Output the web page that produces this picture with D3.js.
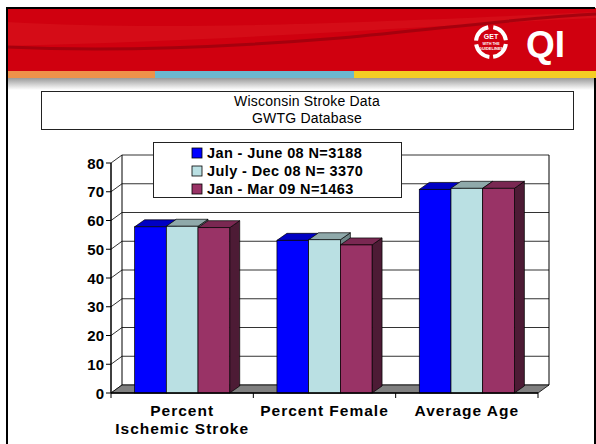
<!DOCTYPE html>
<html>
<head>
<meta charset="utf-8">
<script src="https://cdn.jsdelivr.net/npm/d3@7"></script>
<style>
  body { margin: 0; background: #fff; }
  svg { display: block; font-family: "Liberation Sans", Arial, sans-serif; }
</style>
</head>
<body>
<div id="chart"></div>
<script>
// data
const categories = [["Percent", "Ischemic Stroke"], ["Percent Female"], ["Average Age"]]
const seriesNames = ["Jan - June 08 N=3188", "July - Dec 08 N= 3370", "Jan - Mar 09 N=1463"]
const janJune08 = [57.8, 53.1, 70.8]
const julyDec08 = [58.0, 53.3, 71.2]
const janMar09 = [57.5, 51.5, 71.2]
const yTicks = [0, 10, 20, 30, 40, 50, 60, 70, 80]
const titleLines = ["Wisconsin Stroke Data", "GWTG Database"]

const colors = [
  { front: '#0000ff', top: '#0000c4', side: '#000090' },
  { front: '#bae0e3', top: '#8fa9aa', side: '#6d8587' },
  { front: '#993366', top: '#7a2852', side: '#4d1b35' }
]
const series = [janJune08, julyDec08, janMar09]

const width = 596, height = 444

const svg = d3.select('#chart').append('svg')
  .attr('width', width)
  .attr('height', height)

// ---- slide header ----
const head = svg.append('g')
const defs = svg.append('defs')
const fade = defs.append('linearGradient').attr('id', 'fade').attr('x1', 0).attr('x2', 0).attr('y1', 0).attr('y2', 1)
fade.append('stop').attr('offset', 0).attr('stop-color', '#9a9a9a')
fade.append('stop').attr('offset', 0.6).attr('stop-color', '#d8d8d8')
fade.append('stop').attr('offset', 1).attr('stop-color', '#fff')

head.append('rect').attr('x', 7).attr('y', 8).attr('width', 589).attr('height', 63).attr('fill', '#d0000f')
head.append('path')
  .attr('d', 'M7,22 C150,30 300,26 596,12 L596,18 C420,26 250,40 7,46 Z')
  .attr('fill', '#d91820').attr('opacity', 0.5)
head.append('path')
  .attr('d', 'M7,47 C120,52 230,47 340,38 C430,30 520,18 596,14')
  .attr('fill', 'none').attr('stroke', '#9a000c').attr('stroke-width', 3).attr('opacity', 0.8)

const stripes = [
  { x0: 7, x1: 155, c: '#ee924a' },
  { x0: 155, x1: 354, c: '#6cb8cf' },
  { x0: 354, x1: 596, c: '#f4cd24' }
]
head.selectAll('rect.stripe').data(stripes).enter().append('rect')
  .attr('class', 'stripe')
  .attr('x', d => d.x0).attr('y', 71).attr('width', d => d.x1 - d.x0).attr('height', 7)
  .attr('fill', d => d.c)
head.append('rect').attr('x', 7).attr('y', 78).attr('width', 589).attr('height', 12).attr('fill', 'url(#fade)')

// logo
const logo = head.append('g').attr('transform', 'translate(491,42)')
const ring = d3.arc().innerRadius(13).outerRadius(17)
;[[0.15, 1.45], [1.7, 3.0], [3.25, 4.55], [4.8, 6.1]].forEach(a => {
  logo.append('path').attr('d', ring({ startAngle: a[0], endAngle: a[1] })).attr('fill', '#fff')
})
logo.append('text').attr('y', -3).attr('text-anchor', 'middle').attr('fill', '#fff')
  .attr('font-size', 7).attr('font-weight', 'bold').text('GET')
logo.append('text').attr('y', 3).attr('text-anchor', 'middle').attr('fill', '#fff')
  .attr('font-size', 3.5).attr('font-weight', 'bold').text('WITH THE')
logo.append('text').attr('y', 8).attr('text-anchor', 'middle').attr('fill', '#fff')
  .attr('font-size', 4).attr('font-weight', 'bold').text('GUIDELINES')
head.append('text').attr('x', 526).attr('y', 57).attr('fill', '#fff')
  .attr('font-size', 37).attr('font-weight', 'bold').text('QI')

// slide frame
svg.append('path')
  .attr('d', 'M7,450 L7,8 L595,8 M595,78 L595,450')
  .attr('fill', 'none').attr('stroke', '#000').attr('stroke-width', 2)

// ---- title box ----
svg.append('rect').attr('x', 41.5).attr('y', 91.5).attr('width', 532).attr('height', 38)
  .attr('fill', '#fff').attr('stroke', '#222')
svg.selectAll('text.title').data(titleLines).enter().append('text')
  .attr('class', 'title')
  .attr('x', 307).attr('y', (d, i) => 106 + i * 17)
  .attr('text-anchor', 'middle').attr('font-size', 14).attr('letter-spacing', 0.2).attr('fill', '#000')
  .text(d => d)

// ---- 3d chart ----
const wall = { dx: 11, dy: -8 }
const bar = { dx: 10, dy: -7 }

const y = d3.scaleLinear().domain([0, 80]).range([393, 163])
const x = d3.scaleBand().domain(d3.range(categories.length)).range([111, 538])
const xs = d3.scaleBand().domain(d3.range(series.length)).range([0, x.bandwidth()]).paddingOuter(0.745)

const chart = svg.append('g')

// back wall + left wall grid
chart.selectAll('line.grid').data(yTicks).enter().append('path')
  .attr('class', 'grid')
  .attr('d', d => `M${x.range()[0]},${y(d)} L${x.range()[0] + wall.dx},${y(d) + wall.dy} L${x.range()[1] + wall.dx},${y(d) + wall.dy}`)
  .attr('fill', 'none').attr('stroke', '#333').attr('stroke-width', 1)
chart.append('line')
  .attr('x1', 111 + wall.dx).attr('x2', 111 + wall.dx)
  .attr('y1', y(80) + wall.dy).attr('y2', y(0) + wall.dy)
  .attr('stroke', '#000')
chart.append('line')
  .attr('x1', 538 + wall.dx).attr('x2', 538 + wall.dx)
  .attr('y1', y(80) + wall.dy).attr('y2', y(0) + wall.dy)
  .attr('stroke', '#000')

// floor
chart.append('path')
  .attr('d', `M111,${y(0)} L538,${y(0)} L${538 + wall.dx},${y(0) + wall.dy} L${111 + wall.dx},${y(0) + wall.dy} Z`)
  .attr('fill', '#808080').attr('stroke', '#000').attr('stroke-width', 0.8)

// bars
categories.forEach((c, ci) => {
  series.forEach((s, si) => {
    const x0 = x(ci) + xs(si)
    const w = xs.bandwidth()
    const yt = y(s[ci])
    const yb = y(0)
    const g = chart.append('g')
    g.append('path')
      .attr('d', `M${x0 + w},${yt} L${x0 + w + bar.dx},${yt + bar.dy} L${x0 + w + bar.dx},${yb + bar.dy} L${x0 + w},${yb} Z`)
      .attr('fill', colors[si].side).attr('stroke', '#000').attr('stroke-width', 0.7)
    g.append('path')
      .attr('d', `M${x0},${yt} L${x0 + bar.dx},${yt + bar.dy} L${x0 + w + bar.dx},${yt + bar.dy} L${x0 + w},${yt} Z`)
      .attr('fill', colors[si].top).attr('stroke', '#000').attr('stroke-width', 0.7)
    g.append('rect')
      .attr('x', x0).attr('y', yt).attr('width', w).attr('height', yb - yt)
      .attr('fill', colors[si].front).attr('stroke', '#000').attr('stroke-width', 0.7)
  })
})

// front axes
chart.append('line').attr('x1', 111).attr('x2', 111).attr('y1', y(80)).attr('y2', y(0))
  .attr('stroke', '#000').attr('stroke-width', 1.5)
chart.append('line').attr('x1', 111).attr('x2', 538).attr('y1', y(0)).attr('y2', y(0))
  .attr('stroke', '#000').attr('stroke-width', 1.5)

chart.selectAll('line.ytick').data(yTicks).enter().append('line')
  .attr('x1', 106).attr('x2', 111).attr('y1', d => y(d)).attr('y2', d => y(d))
  .attr('stroke', '#000')
chart.selectAll('text.ylab').data(yTicks).enter().append('text')
  .attr('x', 104).attr('y', d => y(d) + 5.5)
  .attr('text-anchor', 'end').attr('font-size', 15).attr('font-weight', 'bold')
  .text(d => d)

const xTicks = d3.range(categories.length + 1).map(i => 111 + i * x.step())
chart.selectAll('line.xtick').data(xTicks).enter().append('line')
  .attr('x1', d => d).attr('x2', d => d).attr('y1', y(0)).attr('y2', y(0) + 5)
  .attr('stroke', '#000')

categories.forEach((c, ci) => {
  const t = chart.append('text')
    .attr('text-anchor', 'middle').attr('font-size', 15.5).attr('font-weight', 'bold')
    .attr('letter-spacing', 1)
  c.forEach((line, li) => {
    t.append('tspan').attr('x', x(ci) + x.bandwidth() / 2).attr('y', 416 + li * 18).text(line)
  })
})

// legend
const legend = svg.append('g')
legend.append('rect').attr('x', 153.5).attr('y', 142.5).attr('width', 248).attr('height', 55)
  .attr('fill', '#fff').attr('stroke', '#222')
seriesNames.forEach((n, i) => {
  legend.append('rect').attr('x', 192).attr('y', 148 + i * 18).attr('width', 10).attr('height', 10)
    .attr('fill', colors[i].front).attr('stroke', '#000').attr('stroke-width', 0.8)
  legend.append('text').attr('x', 207).attr('y', 158 + i * 18)
    .attr('font-size', 14.5).attr('font-weight', 'bold').attr('letter-spacing', 0.4).text(n)
})
</script>
</body>
</html>
